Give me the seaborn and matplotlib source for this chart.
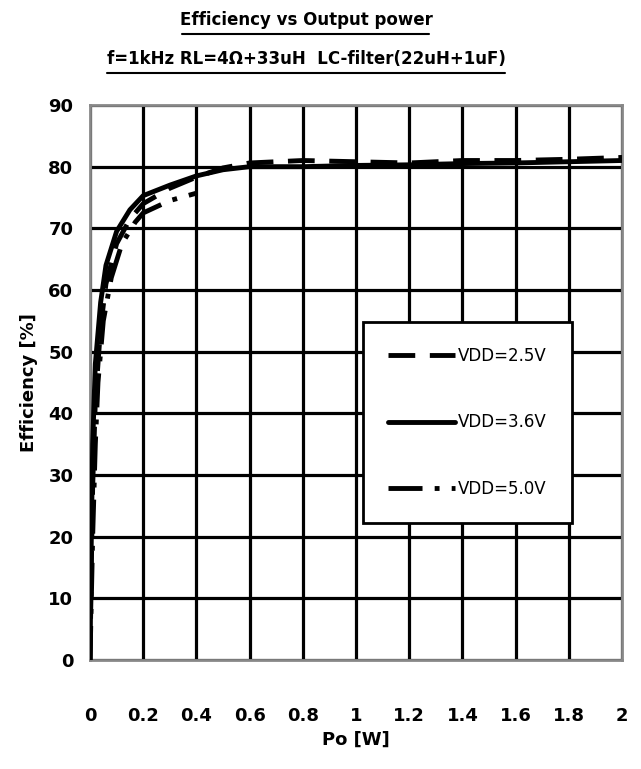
import seaborn as sns
import pandas as pd
import matplotlib.pyplot as plt
from matplotlib.lines import Line2D

# efficiency curves (Po in W, efficiency in %)
po_25 = [0.0, 0.005, 0.01, 0.02, 0.04, 0.06, 0.1, 0.15, 0.2, 0.3, 0.4, 0.5, 0.6, 0.8, 1.0, 1.2, 1.4, 1.6, 1.8, 2.0]
eff_25 = [0, 15, 28, 42, 54, 61, 67.5, 71.5, 74, 76.5, 78.3, 79.8, 80.6, 81, 80.8, 80.6, 81, 81, 81.2, 81.5]
po_36 = [0.0, 0.005, 0.01, 0.02, 0.04, 0.06, 0.1, 0.15, 0.2, 0.3, 0.4, 0.5, 0.6, 0.8, 1.0, 1.2, 1.4, 1.6, 1.8, 2.0]
eff_36 = [0, 20, 35, 48, 58, 64, 69.5, 73, 75.3, 77, 78.5, 79.5, 80, 80, 80.2, 80.3, 80.5, 80.6, 80.8, 81]
po_50 = [0.0, 0.01, 0.02, 0.03, 0.05, 0.08, 0.12, 0.17, 0.2, 0.3, 0.4]
eff_50 = [0, 20, 35, 45, 55, 62, 67.5, 71, 72.5, 74.5, 75.7]

labels = ['VDD=2.5V', 'VDD=3.6V', 'VDD=5.0V']
x_ticks = [0, 0.2, 0.4, 0.6, 0.8, 1, 1.2, 1.4, 1.6, 1.8, 2]
x_tick_labels = ['0', '0.2', '0.4', '0.6', '0.8', '1', '1.2', '1.4', '1.6', '1.8', '2']
y_ticks = [0, 10, 20, 30, 40, 50, 60, 70, 80, 90]

sns.set_style('white')
plt.rcParams['font.family'] = ['DejaVu Sans']
plt.rcParams['text.color'] = 'black'
plt.rcParams['axes.labelcolor'] = 'black'
plt.rcParams['xtick.color'] = 'black'
plt.rcParams['ytick.color'] = 'black'

fig = plt.figure(figsize=(6.41, 7.69), dpi=100)
ax = fig.add_axes([90/641, 1-660/769, 532/641, 555/769])

styles = [(0, (5.5, 3)), '-', (0, (7, 2.5, 1, 2.5))]
series = [(po_25, eff_25), (po_36, eff_36), (po_50, eff_50)]
for (xs, ys), lab, ls in zip(series, labels, styles):
    df = pd.DataFrame({'Po': xs, 'Eff': ys})
    sns.lineplot(df, x='Po', y='Eff', ax=ax, color='black', lw=3.5,
                 linestyle=ls, label=lab, zorder=3)

ax.set_xlim(0, 2)
ax.set_ylim(0, 90)
ax.set_xticks(x_ticks)
ax.set_xticklabels(x_tick_labels)
ax.set_yticks(y_ticks)
ax.grid(True, color='black', lw=2.3)
for s in ax.spines.values():
    s.set_color('#888888')
    s.set_linewidth(2)
ax.tick_params(axis='x', length=0, pad=34, labelsize=13)
ax.tick_params(axis='y', length=0, pad=12, labelsize=13)
for t in ax.get_xticklabels() + ax.get_yticklabels():
    t.set_fontweight('bold')

ax.set_xlabel('Po [W]', fontsize=13, fontweight='bold', labelpad=4)
ax.set_ylabel('Efficiency [%]', fontsize=13, fontweight='bold', labelpad=7)

leg = ax.legend(loc='upper left', bbox_to_anchor=(273/532, 1-(322-105)/555),
                frameon=True, fancybox=False, edgecolor='black', fontsize=12,
                handlelength=4.0, handletextpad=0.2, labelspacing=2.9,
                borderpad=1.5, borderaxespad=0)
leg.get_frame().set_linewidth(2)
leg.get_frame().set_facecolor('white')
leg.get_frame().set_alpha(1)

fig.text(306/641, 1-20/769, 'Efficiency vs Output power', ha='center', va='center',
         fontsize=12, fontweight='bold')
fig.text(306/641, 1-59/769, 'f=1kHz RL=4Ω+33uH  LC-filter(22uH+1uF)', ha='center',
         va='center', fontsize=12, fontweight='bold')
fig.add_artist(Line2D([182/641, 429/641], [1-34/769, 1-34/769], color='black', lw=1.5))
fig.add_artist(Line2D([107/641, 505/641], [1-73/769, 1-73/769], color='black', lw=1.5))

fig.savefig('out.png', dpi=100)
